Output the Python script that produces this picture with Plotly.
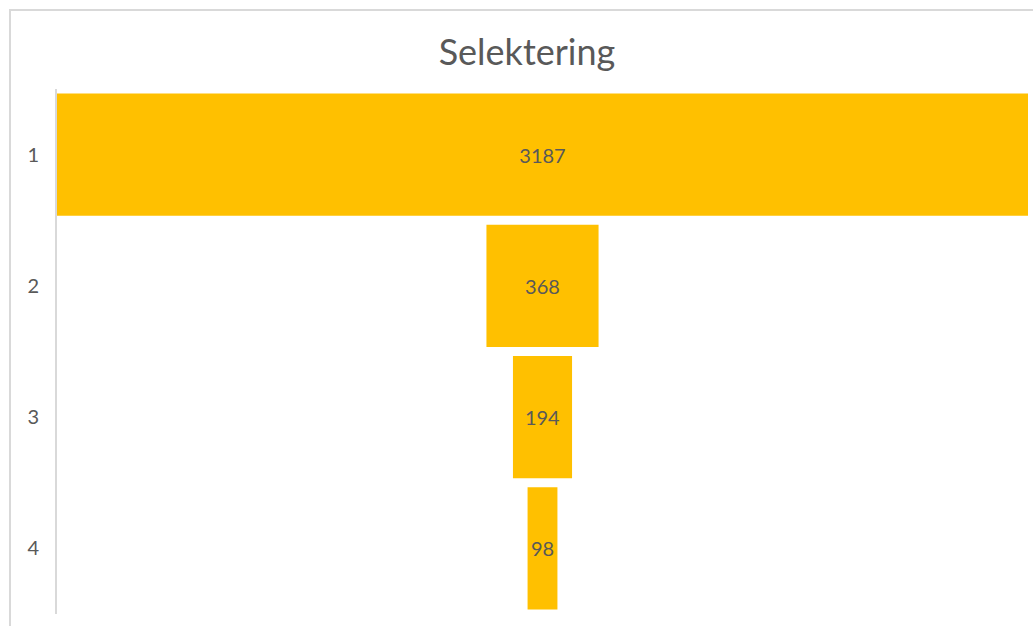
import plotly.graph_objects as go

stages = ["1", "2", "3", "4"]
counts = [3187, 368, 194, 98]
title_text = "Selektering"

W, H = 1033, 626
ml, mr, mt, mb = 57, 5, 89, 12
pw, ph = W - ml - mr, H - mt - mb

fig = go.Figure(go.Funnel(
    y=stages,
    x=counts,
    orientation="h",
    marker=dict(color="#FFC000", line=dict(width=0)),
    connector=dict(visible=False),
    textinfo="value",
    textposition="inside",
    insidetextanchor="middle",
    constraintext="none",
    textfont=dict(family="Lato, 'Open Sans', sans-serif", size=20, color="#595959"),
    hoverinfo="skip",
))

mx = max(counts)
fig.update_layout(
    width=W, height=H,
    margin=dict(l=ml, r=mr, t=mt, b=mb, pad=0),
    paper_bgcolor="white", plot_bgcolor="white",
    funnelgap=0.07,
    showlegend=False,
    title=dict(text=title_text, x=527 / W, xanchor="center", xref="container",
               y=1 - 52 / H, yanchor="middle", yref="container",
               font=dict(family="Lato, 'Open Sans', sans-serif", size=36, color="#595959")),
    xaxis=dict(visible=False, range=[-mx / 2, mx / 2]),
    yaxis=dict(showline=True, linecolor="#D9D9D9", linewidth=2, showgrid=False,
               zeroline=False, ticks="outside", ticklen=12, tickcolor="rgba(0,0,0,0)",
               tickfont=dict(family="Lato, 'Open Sans', sans-serif", size=20, color="#595959"),
               autorange="reversed"),
)

# chart frame border (cut off at right/bottom like reference)
x0 = (10 - ml) / pw
y0 = (H - mb - 10) / ph
fig.add_shape(type="rect", xref="paper", yref="paper",
              x0=x0, y0=-0.2, x1=1.2, y1=y0,
              line=dict(color="#D9D9D9", width=2), fillcolor="rgba(0,0,0,0)", layer="below")

fig.write_html("out.html",
               config={"displayModeBar": False},
               post_script="document.body.style.margin='0';document.body.style.overflow='hidden';")
